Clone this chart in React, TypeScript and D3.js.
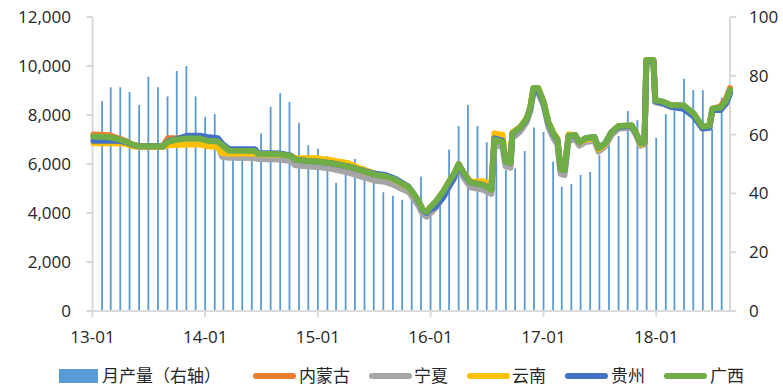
import React from "react";
import * as d3 from "d3";

// Weekly price breakpoints (yuan/ton) for five producing regions
const priceDates = [
  "2013-01-04", "2013-02-26", "2013-03-24", "2013-04-19", "2013-05-12", "2013-06-03", "2013-08-17", "2013-09-02",
  "2013-09-25", "2013-11-03", "2013-12-15", "2014-01-07", "2014-02-11", "2014-02-24", "2014-03-19", "2014-06-11",
  "2014-06-21", "2014-08-31", "2014-10-04", "2014-10-20", "2014-12-01", "2015-01-03", "2015-02-14", "2015-04-10",
  "2015-05-12", "2015-07-06", "2015-08-08", "2015-09-09", "2015-09-28", "2015-10-21", "2015-11-06", "2015-11-23",
  "2015-12-06", "2015-12-19", "2016-01-01", "2016-01-17", "2016-02-12", "2016-02-28", "2016-03-15", "2016-04-01",
  "2016-04-17", "2016-05-09", "2016-06-20", "2016-07-16", "2016-07-26", "2016-08-21", "2016-08-31", "2016-09-16",
  "2016-09-22", "2016-10-18", "2016-11-07", "2016-11-19", "2016-11-29", "2016-12-15", "2017-01-01", "2017-01-17",
  "2017-02-02", "2017-02-15", "2017-02-25", "2017-03-10", "2017-03-23", "2017-04-14", "2017-04-27", "2017-05-17",
  "2017-06-15", "2017-06-28", "2017-07-20", "2017-08-09", "2017-09-01", "2017-10-13", "2017-10-26", "2017-11-11",
  "2017-11-24", "2017-11-30", "2017-12-23", "2017-12-29", "2018-01-24", "2018-02-19", "2018-03-30", "2018-05-02",
  "2018-05-31", "2018-06-22", "2018-07-02", "2018-07-28", "2018-08-16", "2018-08-28",
];

const innerMongolia = [
  7200, 7170, 7060, 6940, 6790, 6730, 6740, 7050, 7050, 7060, 7050, 6960, 6920, 6760, 6530, 6520,
  6400, 6380, 6300, 6150, 6080, 6050, 5900, 5750, 5650, 5480, 5420, 5300, 5150, 5020, 4750, 4450,
  4100, 4000, 4200, 4400, 4880, 5220, 5520, 5970, 5620, 5220, 5100, 4920, 6980, 6880, 6080, 6030,
  7230, 7480, 7830, 8280, 9050, 9050, 8500, 7650, 7200, 6950, 5750, 5700, 7120, 7160, 6880, 7030,
  7080, 6620, 6830, 7280, 7540, 7560, 7300, 6830, 6880, 10200, 10200, 8580, 8520, 8400, 8380, 8050,
  7500, 7530, 8250, 8350, 8680, 9100,
];

const ningxia = [
  7080, 7060, 6980, 6880, 6740, 6690, 6690, 6850, 6950, 7000, 7000, 6900, 6800, 6300, 6250, 6240,
  6200, 6180, 6120, 5950, 5900, 5880, 5800, 5650, 5520, 5320, 5270, 5120, 4990, 4870, 4600, 4300,
  3950, 3850, 4000, 4200, 4700, 5050, 5350, 5800, 5450, 5050, 4950, 4780, 6800, 6700, 5900, 5850,
  7050, 7330, 7700, 8150, 8900, 8900, 8400, 7500, 7050, 6800, 5600, 5550, 6950, 7000, 6750, 6900,
  6950, 6500, 6720, 7180, 7450, 7480, 7220, 6750, 6800, 10150, 10150, 8520, 8450, 8330, 8320, 8000,
  7450, 7480, 8200, 8230, 8550, 8980,
];

const yunnan = [
  6850, 6850, 6850, 6820, 6720, 6700, 6700, 6760, 6780, 6800, 6800, 6720, 6700, 6450, 6430, 6430,
  6400, 6380, 6350, 6230, 6230, 6230, 6150, 6030, 5850, 5600, 5520, 5350, 5200, 5060, 4780, 4500,
  4150, 4050, 4250, 4450, 4900, 5250, 5550, 6000, 5650, 5280, 5300, 5150, 7250, 7200, 6200, 6100,
  7300, 7520, 7880, 8300, 9100, 9100, 8550, 7700, 7280, 7050, 5850, 5800, 7200, 7180, 6880, 7000,
  7050, 6600, 6800, 7300, 7550, 7560, 7300, 6800, 6850, 10250, 10250, 8580, 8500, 8380, 8370, 8020,
  7450, 7500, 8200, 8250, 8550, 9000,
];

const guizhou = [
  6950, 6950, 6950, 6900, 6770, 6720, 6720, 6920, 7000, 7150, 7150, 7100, 7050, 6850, 6600, 6600,
  6450, 6430, 6350, 6180, 6120, 6090, 6030, 5900, 5780, 5600, 5550, 5400, 5250, 5080, 4800, 4480,
  4130, 4000, 4150, 4250, 4650, 5050, 5400, 5950, 5600, 5250, 5150, 4970, 7050, 6950, 6100, 6050,
  7230, 7480, 7830, 8250, 8950, 9000, 8500, 7650, 7220, 6980, 5800, 5750, 7130, 7160, 6890, 7050,
  7100, 6650, 6850, 7300, 7520, 7560, 7300, 6850, 6880, 10200, 10200, 8560, 8480, 8330, 8250, 7950,
  7450, 7480, 8200, 8200, 8480, 8880,
];

const guangxi = [
  7120, 7090, 7020, 6920, 6780, 6720, 6720, 6900, 6980, 7040, 7040, 6950, 6920, 6780, 6540, 6530,
  6420, 6400, 6330, 6180, 6120, 6090, 6030, 5900, 5780, 5560, 5500, 5350, 5210, 5070, 4800, 4500,
  4150, 4050, 4250, 4450, 4900, 5250, 5550, 6000, 5650, 5250, 5150, 4950, 7000, 6900, 6100, 6050,
  7250, 7500, 7850, 8300, 9100, 9100, 8550, 7700, 7250, 7000, 5800, 5750, 7150, 7180, 6900, 7050,
  7100, 6650, 6850, 7300, 7550, 7580, 7320, 6850, 6900, 10250, 10250, 8600, 8540, 8400, 8400, 8070,
  7530, 7560, 8270, 8300, 8600, 9020,
];

// Monthly output (right axis)
const outputMonths = [
  "2013-02", "2013-03", "2013-04", "2013-05", "2013-06", "2013-07", "2013-08", "2013-09", "2013-10", "2013-11", "2013-12",
  "2014-01", "2014-02", "2014-03", "2014-04", "2014-05", "2014-06", "2014-07", "2014-08", "2014-09", "2014-10", "2014-11", "2014-12",
  "2015-01", "2015-02", "2015-03", "2015-04", "2015-05", "2015-06", "2015-07", "2015-08", "2015-09", "2015-10", "2015-11", "2015-12",
  "2016-01", "2016-02", "2016-03", "2016-04", "2016-05", "2016-06", "2016-07", "2016-08", "2016-09", "2016-10", "2016-11", "2016-12",
  "2017-01", "2017-02", "2017-03", "2017-04", "2017-05", "2017-06", "2017-07", "2017-08", "2017-09", "2017-10", "2017-11", "2017-12",
  "2018-01", "2018-02", "2018-03", "2018-04", "2018-05", "2018-06", "2018-07", "2018-08",
];
const outputValues = [
  71.4, 76.1, 76.1, 74.5, 70.1, 79.7, 76.1, 73.0, 81.6, 83.3, 73.0,
  66.0, 67.0, 53, 54, 53, 55, 60.4, 69.5, 74.1, 71.1, 64.0, 56.4,
  55.2, 52.7, 43.6, 47.3, 51.7, 49.2, 47.7, 40.4, 39.2, 37.8, 40.0, 45.7,
  32.3, 38.9, 54.9, 62.9, 70.1, 62.9, 57.4, 52, 48.0, 48.5, 54.4, 62.4,
  60.9, 50.8, 42.3, 43.2, 46.3, 47.3, 53.0, 56.7, 59.5, 68.0, 64.9, 60,
  58.9, 67, 68, 79.0, 75.1, 75.1, 61.9, 72.5,
];

const leftTicks = [0, 2000, 4000, 6000, 8000, 10000, 12000];
const rightTicks = [0, 20, 40, 60, 80, 100];
const xTickDates = ["2013-01-01", "2014-01-01", "2015-01-01", "2016-01-01", "2017-01-01", "2018-01-01"];
const xTickLabels = ["13-01", "14-01", "15-01", "16-01", "17-01", "18-01"];

const seriesNames = ["内蒙古", "宁夏", "云南", "贵州", "广西"];
const seriesValues = [innerMongolia, ningxia, yunnan, guizhou, guangxi];
const seriesColors = ["#ED7D31", "#A5A5A5", "#FFC000", "#4472C4", "#70AD47"];
const barName = "月产量（右轴）";
const barColor = "#5B9BD5";

const W = 783;
const H = 386;
const left = 92.5;
const right = 730;
const top = 17;
const bottom = 311;

const parse = d3.utcParse("%Y-%m-%d");
const parseMonth = d3.utcParse("%Y-%m");

export default function App() {
  const x = d3
    .scaleUtc()
    .domain([parse("2013-01-01")!, parse("2018-08-28")!])
    .range([left, right]);
  const yL = d3.scaleLinear().domain([0, 12000]).range([bottom, top]);
  const yR = d3.scaleLinear().domain([0, 100]).range([bottom, top]);

  const dates = priceDates.map((d) => parse(d)!);
  const line = d3
    .line<number>()
    .x((_, i) => x(dates[i]))
    .y((v) => yL(v));

  const axisColor = "#D9D9D9";
  const textColor = "#262626";
  const numFont = "'Open Sans', 'Liberation Sans', sans-serif";
  const cjkFont = "'Noto Sans CJK SC', sans-serif";

  const legendItems = [
    { swatch: 59, text: 102, name: barName, color: barColor, bar: true },
    { swatch: 254, text: 299, name: seriesNames[0], color: seriesColors[0], bar: false },
    { swatch: 370, text: 414, name: seriesNames[1], color: seriesColors[1], bar: false },
    { swatch: 468, text: 512, name: seriesNames[2], color: seriesColors[2], bar: false },
    { swatch: 566, text: 611, name: seriesNames[3], color: seriesColors[3], bar: false },
    { swatch: 665, text: 710, name: seriesNames[4], color: seriesColors[4], bar: false },
  ];
  const legendY = 376;

  return (
    <svg
      width={W}
      height={H}
      style={{ position: "absolute", left: 0, top: 0, background: "#fff" }}
    >
      <rect width={W} height={H} fill="#fff" />

      {/* monthly output bars */}
      {outputMonths.map((m, i) => {
        const cx = x(parseMonth(m)!);
        return (
          <rect
            key={m}
            x={cx - 0.9}
            y={yR(outputValues[i])}
            width={1.8}
            height={bottom - yR(outputValues[i])}
            fill={barColor}
          />
        );
      })}

      {/* axes */}
      <line x1={left} x2={left} y1={top} y2={bottom} stroke={axisColor} strokeWidth={2} />
      <line x1={right} x2={right} y1={top} y2={bottom} stroke={axisColor} strokeWidth={2} />
      <line x1={left - 6} x2={right + 6} y1={bottom} y2={bottom} stroke={axisColor} strokeWidth={2} />
      {leftTicks.map((t) => (
        <g key={"l" + t}>
          <line x1={left - 6} x2={left} y1={yL(t)} y2={yL(t)} stroke={axisColor} strokeWidth={2} />
          <text
            x={71}
            y={yL(t) + 6}
            textAnchor="end"
            fontFamily={numFont}
            fontSize={17}
            fill={textColor}
          >
            {d3.format(",")(t)}
          </text>
        </g>
      ))}
      {rightTicks.map((t) => (
        <g key={"r" + t}>
          <line x1={right} x2={right + 6} y1={yR(t)} y2={yR(t)} stroke={axisColor} strokeWidth={2} />
          <text x={749} y={yR(t) + 6} fontFamily={numFont} fontSize={17} fill={textColor}>
            {t}
          </text>
        </g>
      ))}
      {xTickDates.map((d, i) => {
        const tx = x(parse(d)!);
        return (
          <g key={d}>
            <line x1={tx} x2={tx} y1={bottom} y2={bottom + 6} stroke={axisColor} strokeWidth={2} />
            <text
              x={tx}
              y={343}
              textAnchor="middle"
              fontFamily={numFont}
              fontSize={17}
              fill={textColor}
            >
              {xTickLabels[i]}
            </text>
          </g>
        );
      })}

      {/* regional price lines */}
      {seriesValues.map((vals, i) => (
        <path
          key={seriesNames[i]}
          d={line(vals) ?? ""}
          fill="none"
          stroke={seriesColors[i]}
          strokeWidth={6}
          strokeLinejoin="round"
          strokeLinecap="round"
        />
      ))}

      {/* legend */}
      {legendItems.map((it) => (
        <g key={it.name}>
          {it.bar ? (
            <rect x={it.swatch} y={legendY - 7} width={39} height={14} fill={it.color} />
          ) : (
            <line
              x1={it.swatch + 2}
              x2={it.swatch + 39}
              y1={legendY}
              y2={legendY}
              stroke={it.color}
              strokeWidth={6}
              strokeLinecap="round"
            />
          )}
          <text
            x={it.text}
            y={legendY + 6}
            fontFamily={cjkFont}
            fontSize={17}
            fill={textColor}
          >
            {it.name}
          </text>
        </g>
      ))}
    </svg>
  );
}
